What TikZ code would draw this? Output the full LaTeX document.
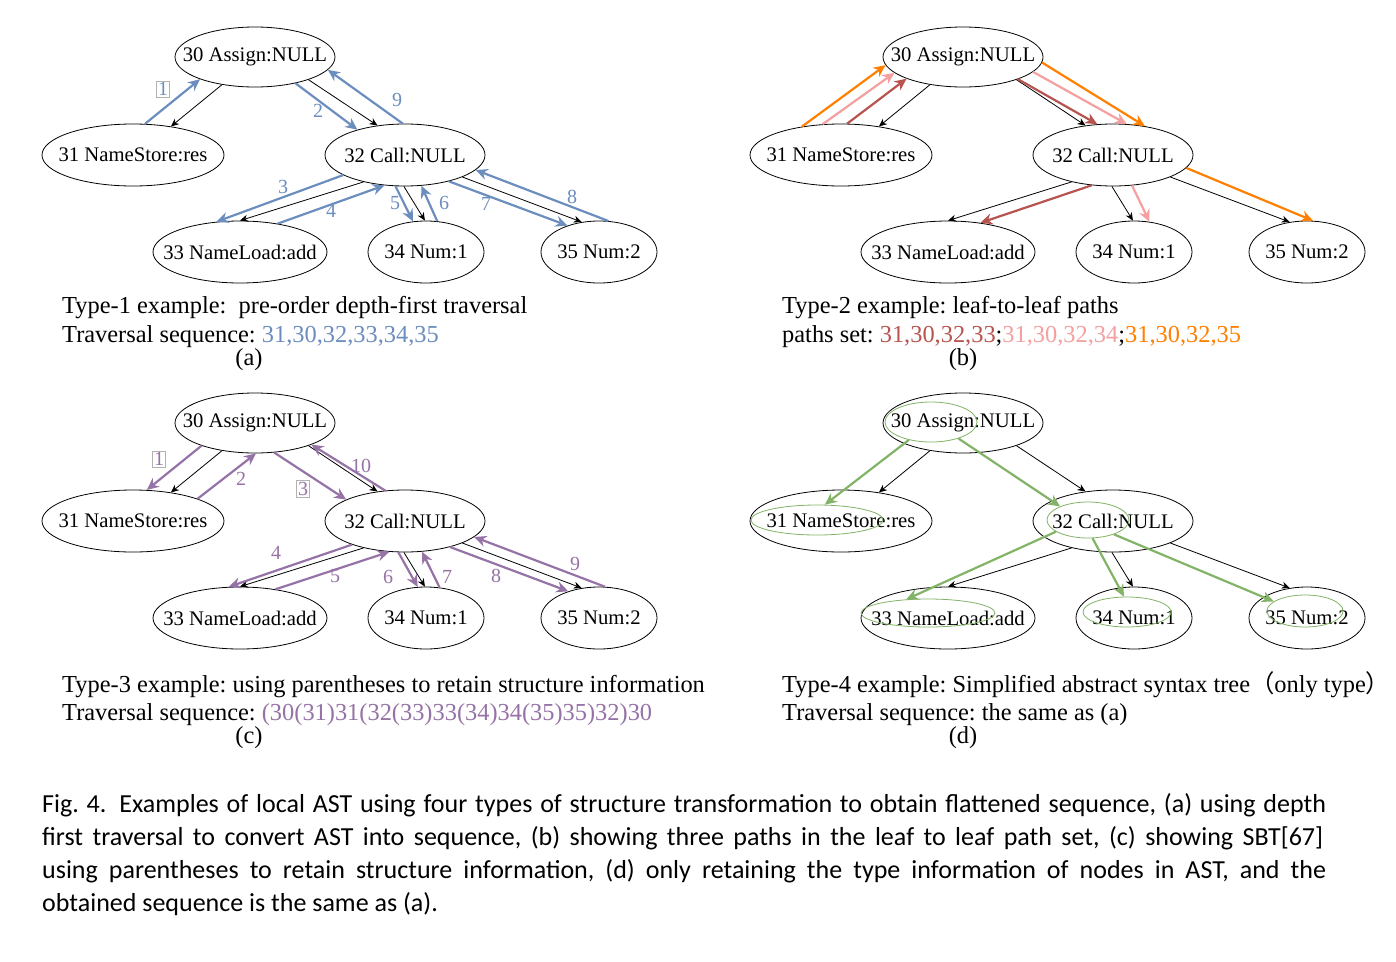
\documentclass[tikz,border=0pt]{standalone}
\usepackage{fontspec}
\setmainfont{Liberation Serif}
\newfontfamily\capfont{Carlito}
\newfontfamily\cjk{Noto Sans CJK SC}
\usetikzlibrary{shapes.geometric,arrows.meta}
\definecolor{cblue}{HTML}{6C8EBF}
\definecolor{cpurple}{HTML}{9673A6}
\definecolor{cgreen}{HTML}{82B366}
\definecolor{cdred}{HTML}{B85450}
\definecolor{cpink}{HTML}{F5A0A0}
\definecolor{corange}{HTML}{FF8000}
\frenchspacing
\tikzset{
 tn/.style={ellipse,draw,line width=0.8pt,inner sep=0pt,font=\fontsize{20.7}{24}\selectfont},
 bk/.style={line width=0.8pt,-{Stealth[length=8pt,width=7pt]}},
 ca/.style={line width=2.2pt,-{Stealth[length=12pt,width=11pt]}},
 lab/.style={font=\fontsize{20}{24}\selectfont,inner sep=1pt},
 boxlab/.style={lab,draw=black!30,line width=0.6pt,inner sep=1.5pt},
 ptext/.style={anchor=base west,font=\fontsize{24.4}{28}\selectfont,inner sep=0pt},
 captext/.style={anchor=base west,font=\capfont\fontsize{26}{33}\selectfont,inner sep=0pt},
 gin/.style={ellipse,draw=cgreen,line width=0.8pt,inner sep=0pt},
}
\newcommand\zt[1]{\makebox[0pt]{#1}}
\newcommand\mktree[1]{%
 \node[tn,minimum width=160pt,minimum height=60pt] (#130) at (255,57) {\zt{30 Assign:NULL}};
 \node[tn,minimum width=182pt,minimum height=62pt] (#131) at (133,155) {\zt{31 NameStore:res}};
 \node[tn,minimum width=160pt,minimum height=62pt] (#132) at (405,155) {\zt{32 Call:NULL}};
 \node[tn,minimum width=174pt,minimum height=62pt] (#133) at (240,252) {\zt{33 NameLoad:add}};
 \node[tn,minimum width=116pt,minimum height=62pt] (#134) at (426,252) {\zt{34 Num:1}};
 \node[tn,minimum width=116pt,minimum height=62pt] (#135) at (599,252) {\zt{35 Num:2}};
 \draw[bk] (#130.220) -- (#131.37);
 \draw[bk] (#130.337) -- (#132.133);
 \draw[bk] (#132.213) -- (#133.90);
 \draw[bk] (#132.268) -- (#134.92);
 \draw[bk] (#132.339) -- (#135.120);
}
\begin{document}
\begin{tikzpicture}[x=1pt,y=-1pt]
\useasboundingbox[fill=white] (0,0) rectangle (1396,961);
% ---------- panel (a)
\begin{scope}
 \mktree{a}
 \begin{scope}[cblue]
 \draw[ca] (a31.69) -- (a30.202);
 \draw[ca] (a30.327) -- (a32.152);
 \draw[ca] (a32.94) -- (a30.350);
 \draw[ca] (a32.198) -- (a33.128);
 \draw[ca] (a33.37) -- (a32.236);
 \draw[ca] (a32.253) -- (a34.113);
 \draw[ca] (a34.70) -- (a32.298);
 \draw[ca] (a32.329) -- (a35.140);
 \draw[ca] (a35.73) -- (a32.348);
 \node[boxlab] (la1) at (163,89) {1};
 \node[lab] (la2) at (318,111) {2};
 \node[lab] (la9) at (397,100) {9};
 \node[lab] (la3) at (283,187) {3};
 \node[lab] (la4) at (331,211) {4};
 \node[lab] (la5) at (395,203) {5};
 \node[lab] (la6) at (444,203) {6};
 \node[lab] (la7) at (486,204) {7};
 \node[lab] (la8) at (572,197) {8};
 \end{scope}
\end{scope}
% ---------- panel (b)
\begin{scope}[shift={(708,0)}]
 \mktree{b}
 \draw[ca,corange] (b31.144) -- (b30.186);
 \draw[ca,cpink] (b31.121) -- (b30.193);
 \draw[ca,cdred] (b31.79) -- (b30.201);
 \draw[ca,cdred] (b30.338) -- (b32.117);
 \draw[ca,cpink] (b30.348) -- (b32.66);
 \draw[ca,corange] (b30.356) -- (b32.42);
 \draw[ca,cdred] (b32.235) -- (b33.42);
 \draw[ca,cpink] (b32.302) -- (b34.63);
 \draw[ca,corange] (b32.350) -- (b35.79);
\end{scope}
% ---------- panel (c)
\begin{scope}[shift={(0,366)}]
 \mktree{c}
 \begin{scope}[cpurple]
 \draw[ca] (c30.203) -- (c31.66);
 \draw[ca] (c31.19) -- (c30.272);
 \draw[ca] (c30.303) -- (c32.160);
 \draw[ca] (c32.123) -- (c30.339);
 \draw[ca] (c32.204) -- (c33.110);
 \draw[ca] (c33.39) -- (c32.243);
 \draw[ca] (c32.258) -- (c34.105);
 \draw[ca] (c34.66) -- (c32.299);
 \draw[ca] (c32.330) -- (c35.139);
 \draw[ca] (c35.79) -- (c32.347);
 \node[boxlab] (lc1) at (159,93) {1};
 \node[lab] (lc2) at (241,113) {2};
 \node[boxlab] (lc3) at (303,123) {3};
 \node[lab] (lc10) at (361,100) {10};
 \node[lab] (lc4) at (276,187) {4};
 \node[lab] (lc5) at (335,210) {5};
 \node[lab] (lc6) at (388,211) {6};
 \node[lab] (lc7) at (447,211) {7};
 \node[lab] (lc8) at (496,210) {8};
 \node[lab] (lc9) at (575,198) {9};
 \end{scope}
\end{scope}
% ---------- panel (d)
\begin{scope}[shift={(708,366)}]
 \mktree{d}
 \node[gin,minimum width=92pt,minimum height=40pt] (g30) at (223,56) {};
 \node[gin,minimum width=132pt,minimum height=30pt] (g31) at (109,154) {};
 \node[gin,minimum width=82pt,minimum height=36pt] (g32) at (380,154) {};
 \node[gin,minimum width=134pt,minimum height=28pt] (g33) at (220,247) {};
 \node[gin,minimum width=88pt,minimum height=30pt] (g34) at (419,246) {};
 \node[gin,minimum width=76pt,minimum height=32pt] (g35) at (597,245) {};
 \draw[ca,cgreen] (g30.219) -- (g31.63);
 \draw[ca,cgreen] (g30.329) -- (g32.154);
 \draw[ca,cgreen] (g32.200) -- (g33.148);
 \draw[ca,cgreen] (g32.284) -- (g34.101);
 \draw[ca,cgreen] (g32.331) -- (g35.163);
\end{scope}
% ---------- panel texts
\node[ptext] (ta1) at (62,313) {Type-1 example:\ \ pre-order depth-first traversal};
\node[ptext] (ta2) at (62,342) {Traversal sequence: \textcolor{cblue}{31,30,32,33,34,35}};
\node[ptext,anchor=base] (ta3) at (249,365) {(a)};
\node[ptext] (tb1) at (782,313) {Type-2 example: leaf-to-leaf paths};
\node[ptext] (tb2) at (782,342) {paths set: \textcolor{cdred}{31,30,32,33};\textcolor{cpink}{31,30,32,34};\textcolor{corange}{31,30,32,35}};
\node[ptext,anchor=base] (tb3) at (963,365) {(b)};
\node[ptext] (tc1) at (62,692) {Type-3 example: using parentheses to retain structure information};
\node[ptext] (tc2) at (62,720) {Traversal sequence: \textcolor{cpurple}{(30(31)31(32(33)33(34)34(35)35)32)30}};
\node[ptext,anchor=base] (tc3) at (249,743) {(c)};
\node[ptext] (td1) at (782,692) {Type-4 example: Simplified abstract syntax tree{\cjk （}only type{\cjk ）}};
\node[ptext] (td2) at (782,720) {Traversal sequence: the same as (a)};
\node[ptext,anchor=base] (td3) at (963,743) {(d)};
% ---------- caption
\node[captext] (cap1) at (42,812) {\makebox[1284pt][s]{Fig.~4.\hspace{0.5em}Examples of local AST using four types of structure transformation to obtain flattened sequence, (a) using depth}};
\node[captext] (cap2) at (42,845) {\makebox[1281pt][s]{first traversal to convert AST into sequence, (b) showing three paths in the leaf to leaf path set, (c) showing SBT[67]}};
\node[captext] (cap3) at (42,878) {\makebox[1284pt][s]{using parentheses to retain structure information, (d) only retaining the type information of nodes in AST, and the}};
\node[captext] (cap4) at (42,911) {obtained sequence is the same as (a).};
\end{tikzpicture}
\end{document}
